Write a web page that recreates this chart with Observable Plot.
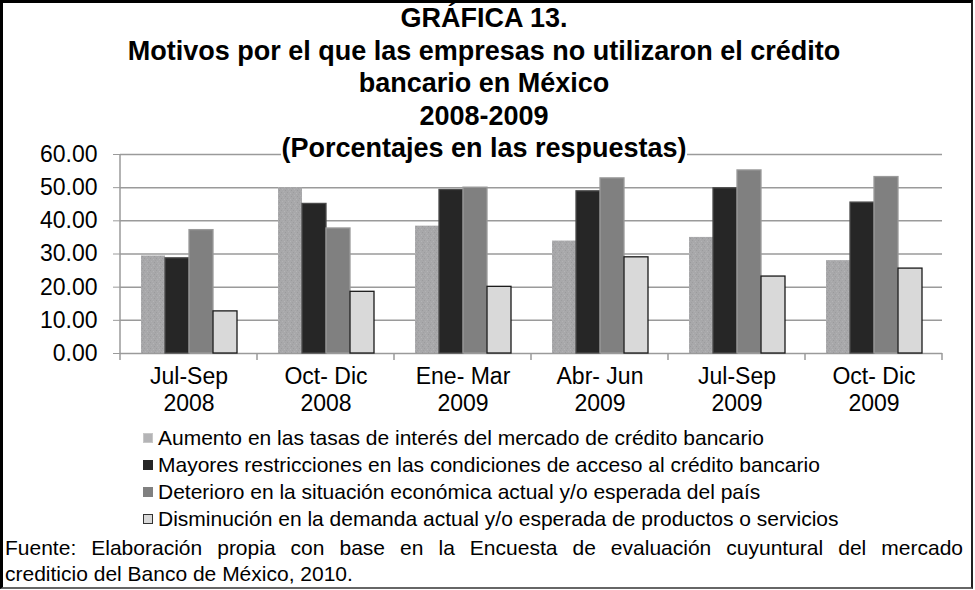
<!DOCTYPE html>
<html>
<head>
<meta charset="utf-8">
<script src="https://cdn.jsdelivr.net/npm/d3@7"></script>
<script src="https://cdn.jsdelivr.net/npm/@observablehq/plot@0.6"></script>
<style>
html,body{margin:0;padding:0;background:#fff;}
#wrap{position:relative;width:975px;height:590px;overflow:hidden;font-family:"Liberation Sans",Arial,sans-serif;color:#000;}
#chart{position:absolute;left:0;top:0;}
#frame{position:absolute;left:0;top:0;width:973px;height:589px;box-sizing:border-box;border-top:3px solid #000;border-left:3px solid #000;border-right:2px solid #222;border-bottom:2px solid #666;pointer-events:none;}
#title{position:absolute;left:0;width:968px;top:2px;text-align:center;font-weight:bold;font-size:27px;line-height:32.5px;}
#title span{background:#fff;}
#legend{position:absolute;left:143px;top:424px;font-size:21px;line-height:27px;}
.row{display:flex;align-items:center;height:27px;white-space:nowrap;}
.sw{width:10px;height:10px;margin-right:5px;box-sizing:border-box;flex:none;}
#foot{position:absolute;left:5px;width:958px;top:535px;font-size:21px;line-height:26px;}
#foot .l1{text-align:justify;text-align-last:justify;white-space:nowrap;}
</style>
</head>
<body>
<div id="wrap">
  <div id="chart"></div>
  <div id="title"></div>
  <div id="legend"></div>
  <div id="foot"></div>
  <div id="frame"></div>
</div>
<script>
// ---- data ----
const titleLines = [
  "GRÁFICA 13.",
  "Motivos por el que las empresas no utilizaron el crédito",
  "bancario en México",
  "2008-2009",
  "(Porcentajes en las respuestas)"
];
const categories = ["Jul-Sep\n2008", "Oct- Dic\n2008", "Ene- Mar\n2009", "Abr- Jun\n2009", "Jul-Sep\n2009", "Oct- Dic\n2009"];
const series = [
  "Aumento en las tasas de interés del mercado de crédito bancario",
  "Mayores restricciones en las condiciones de acceso al crédito bancario",
  "Deterioro en la situación económica actual y/o esperada del país",
  "Disminución en la demanda actual y/o esperada de productos o servicios"
];
const aumento       = [29.4, 50.0, 38.4, 33.9, 35.0, 28.0];
const restricciones = [28.7, 45.1, 49.3, 48.9, 49.8, 45.5];
const deterioro     = [37.2, 37.7, 50.0, 52.8, 55.2, 53.2];
const demanda       = [12.7, 18.6, 20.1, 29.0, 23.2, 25.6];
const yTicks = [0, 10, 20, 30, 40, 50, 60];
const footLine1 = "Fuente: Elaboración propia con base en la Encuesta de evaluación cuyuntural del mercado";
const footLine2 = "crediticio del Banco de México, 2010.";

// ---- styles ----
const fills = ["url(#speckle)", "#262626", "#808080", "#d9d9d9"];
const strokes = ["none", "#4a4a4a", "#9a9a9a", "#1a1a1a"];
const swatchFills = ["#b4b4b6", "#262626", "#808080", "#d9d9d9"];
const swatchStrokes = ["#c8c8c8", "#262626", "#808080", "#333333"];

// ---- table ----
const valuesBySeries = [aumento, restricciones, deterioro, demanda];
const data = [];
categories.forEach((c, i) => series.forEach((s, j) => data.push({period: c, series: s, value: valuesBySeries[j][i], k: j})));

// ---- chart ----
const chart = Plot.plot({
  width: 975,
  height: 590,
  marginLeft: 120,
  marginRight: 33,
  marginTop: 154,
  marginBottom: 237,
  style: {fontFamily: '"Liberation Sans", Arial, sans-serif', fontSize: "22px", color: "#000", background: "transparent", overflow: "visible"},
  fx: {domain: categories, padding: 0, label: null},
  x: {domain: series, paddingInner: 0, paddingOuter: 0.74, axis: null},
  y: {domain: [0, 60], label: null},
  color: {domain: series, range: fills},
  marks: [
    Plot.gridY(yTicks, {stroke: "#9a9a9a", strokeOpacity: 1, strokeWidth: 1.5}),
    Plot.barY(data, {fx: "period", x: "series", y: "value", fill: "series", stroke: d => strokes[d.k], strokeWidth: 1.3}),
    Plot.axisY(yTicks, {tickFormat: d => d.toFixed(2), tickSize: 7, tickPadding: 16, stroke: "#9a9a9a", fontSize: 23, label: null}),
    Plot.axisFx({anchor: "bottom", tickSize: 0, tickPadding: 12, fontSize: 23, lineHeight: 1.15, label: null})
  ]
});
document.getElementById("chart").appendChild(chart);

// speckle pattern for first series
const svg = d3.select(chart);
const defs = svg.insert("defs", ":first-child");
const pat = defs.append("pattern").attr("id", "speckle").attr("patternUnits", "userSpaceOnUse").attr("width", 6).attr("height", 6);
pat.append("rect").attr("width", 6).attr("height", 6).attr("fill", "#a8a8aa");
[[0,0,"#9c9c9e"],[3,1,"#b5b5b7"],[1,3,"#b2b2b4"],[4,4,"#9a9a9c"],[2,5,"#afafb1"],[5,2,"#a0a0a2"]].forEach(([x,y,c]) =>
  pat.append("rect").attr("x", x).attr("y", y).attr("width", 1).attr("height", 1).attr("fill", c));

// axis line and category boundary ticks from the scales
const fx = chart.scale("fx");
const ys = chart.scale("y");
const y0 = ys.apply(0), yTop = ys.apply(60);
const bounds = fx.domain.map(d => fx.apply(d));
bounds.push(bounds[bounds.length - 1] + fx.step);
const g = svg.append("g").attr("stroke", "#9a9a9a").attr("stroke-width", 1.5);
g.append("line").attr("x1", bounds[0]).attr("x2", bounds[0]).attr("y1", yTop).attr("y2", y0);
bounds.forEach(b => g.append("line").attr("x1", b).attr("x2", b).attr("y1", y0).attr("y2", y0 + 7));

// title
const title = document.getElementById("title");
titleLines.forEach(t => { const d = document.createElement("div"); const s = document.createElement("span"); s.textContent = t; d.appendChild(s); title.appendChild(d); });

// legend
const legend = document.getElementById("legend");
series.forEach((s, i) => {
  const r = document.createElement("div"); r.className = "row";
  const sw = document.createElement("div"); sw.className = "sw";
  sw.style.background = swatchFills[i]; sw.style.border = "1px solid " + swatchStrokes[i];
  const t = document.createElement("span"); t.textContent = s;
  r.appendChild(sw); r.appendChild(t); legend.appendChild(r);
});

// footer
const foot = document.getElementById("foot");
const f1 = document.createElement("div"); f1.className = "l1"; f1.textContent = footLine1;
const f2 = document.createElement("div"); f2.textContent = footLine2;
foot.appendChild(f1); foot.appendChild(f2);
</script>
</body>
</html>
